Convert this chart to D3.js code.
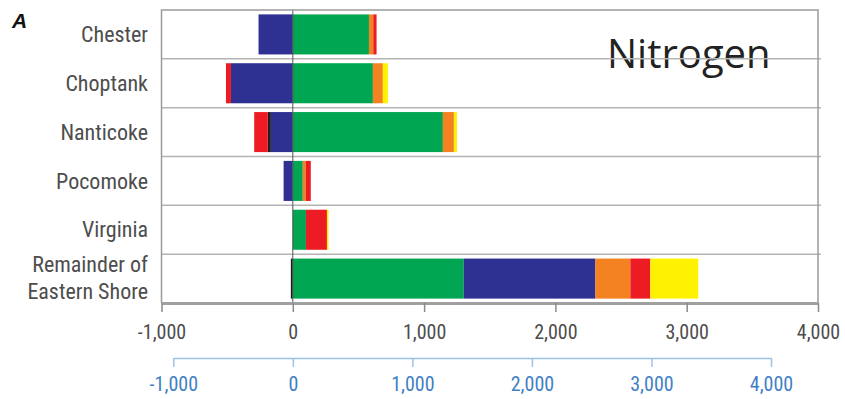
<!DOCTYPE html>
<html>
<head>
<meta charset="utf-8">
<script src="https://cdn.jsdelivr.net/npm/d3@7"></script>
<style>
  body { margin: 0; background: #fff; }
  svg { display: block; }
</style>
</head>
<body>
<div id="chart"></div>
<script>
// rows, top to bottom
const basins = ["Chester", "Choptank", "Nanticoke", "Pocomoke", "Virginia", "Remainder of Eastern Shore"];
// signed loads per source (negative = left of zero)
const greenVals  = [580, 610, 1143, 76, 100, 1302];
const blueVals   = [-261, -471, -167, -70, 0, 1003];
const blackVals  = [0, 0, -23, 0, 0, -15];
const orangeVals = [33, 76, 84, 23, 0, 266];
const redVals    = [25, -38, -104, 38, 160, 152];
const yellowVals = [0, 38, 23, 0, 12, 365];
const tickVals = [-1000, 0, 1000, 2000, 3000, 4000];

const keys = ["green", "blue", "black", "orange", "red", "yellow"];
const colors = {
    green: "#00a651", blue: "#2e3192", black: "#231f20",
    orange: "#f58220", red: "#ed1c24", yellow: "#fff200"
};

const rows = basins.map((name, i) => ({
    name: name,
    green: greenVals[i], blue: blueVals[i], black: blackVals[i],
    orange: orangeVals[i], red: redVals[i], yellow: yellowVals[i]
}));

const width = 845, height = 399;
const plotLeft = 161.5, plotRight = 818, plotTop = 10, plotBottom = 303;

const svg = d3.select("#chart").append("svg")
    .attr("width", width)
    .attr("height", height);

const x = d3.scaleLinear().domain([-1000, 4000]).range([plotLeft, plotRight]);
const x2 = d3.scaleLinear().domain([-1000, 4000]).range([173.3, 771]);
const y = d3.scaleBand().domain(basins).range([plotTop, plotBottom])
    .paddingInner(0.18).paddingOuter(0.09);

const fmt = d => d3.format(",")(d).replace("\u2212", "-");
const condensed = "'Liberation Sans Narrow', 'Arial Narrow', 'Roboto Condensed', 'Liberation Sans', sans-serif";

// Nitrogen label (sits under grid lines)
svg.append("text")
    .attr("x", 607)
    .attr("y", 68)
    .attr("font-family", "'Open Sans', 'Noto Sans', sans-serif")
    .attr("font-size", 40)
    .attr("fill", "#222")
    .text("Nitrogen");

// stacked bars
const stack = d3.stack().keys(keys).offset(d3.stackOffsetDiverging);
const series = stack(rows);

svg.append("g")
    .selectAll("g")
    .data(series)
    .join("g")
    .attr("fill", d => colors[d.key])
    .selectAll("rect")
    .data(d => d)
    .join("rect")
    .attr("x", d => x(Math.min(d[0], d[1])))
    .attr("width", d => Math.abs(x(d[1]) - x(d[0])))
    .attr("y", d => y(d.data.name))
    .attr("height", y.bandwidth());

// row separators
const step = y.step();
svg.append("g")
    .selectAll("line")
    .data(d3.range(1, basins.length))
    .join("line")
    .attr("x1", plotLeft)
    .attr("x2", plotRight + 3)
    .attr("y1", i => plotTop + i * step)
    .attr("y2", i => plotTop + i * step)
    .attr("stroke", "#b4b4b4")
    .attr("stroke-width", 1.5);

// zero line
svg.append("line")
    .attr("x1", x(0)).attr("x2", x(0))
    .attr("y1", plotTop).attr("y2", plotBottom)
    .attr("stroke", "#555")
    .attr("stroke-width", 1);

// frame
svg.append("path")
    .attr("d", `M${plotLeft},${plotBottom}V${plotTop}H${plotRight}V${plotBottom}`)
    .attr("fill", "none")
    .attr("stroke", "#9a9a9a")
    .attr("stroke-width", 1.5);

// main axis
const axis = svg.append("g")
    .attr("transform", `translate(0,${plotBottom})`)
    .call(d3.axisBottom(x).tickValues(tickVals).tickFormat(fmt).tickSize(9).tickSizeOuter(0));
axis.select(".domain").attr("stroke", "#a0a0a0").attr("stroke-width", 3);
axis.selectAll(".tick line").attr("stroke", "#8a8a8a").attr("stroke-width", 1.5);
axis.selectAll(".tick text")
    .attr("y", 22)
    .attr("font-family", condensed)
    .attr("font-size", 20)
    .attr("fill", "#4d4d4d");

// second (blue) axis
const axis2 = svg.append("g")
    .attr("transform", "translate(0,358)")
    .call(d3.axisBottom(x2).tickValues(tickVals).tickFormat(fmt).tickSize(9).tickSizeOuter(0));
axis2.select(".domain").attr("stroke", "#9cc3e6").attr("stroke-width", 1.5);
axis2.selectAll(".tick line").attr("stroke", "#9cc3e6").attr("stroke-width", 1.5);
axis2.selectAll(".tick text")
    .attr("y", 19)
    .attr("font-family", condensed)
    .attr("font-size", 20)
    .attr("fill", "#3f7fc4");

// category labels
const lab = svg.append("g")
    .attr("font-family", condensed)
    .attr("font-size", 22)
    .attr("fill", "#4d4d4d")
    .attr("text-anchor", "end");
lab.selectAll("text")
    .data(basins)
    .join("text")
    .attr("x", 148)
    .attr("y", d => y(d) + y.bandwidth() / 2)
    .attr("dy", "0.35em")
    .each(function(d) {
        const t = d3.select(this);
        if (d === "Remainder of Eastern Shore") {
            t.attr("dy", null);
            t.append("tspan").attr("x", 148).attr("dy", "-0.28em").text("Remainder of");
            t.append("tspan").attr("x", 148).attr("dy", "1.2em").text("Eastern Shore");
        } else {
            t.text(d);
        }
    });

// panel letter
svg.append("text")
    .attr("x", 12)
    .attr("y", 28)
    .attr("font-family", "'Liberation Sans', Arial, sans-serif")
    .attr("font-size", 21)
    .attr("font-weight", "bold")
    .attr("font-style", "italic")
    .attr("fill", "#111")
    .text("A");
</script>
</body>
</html>
